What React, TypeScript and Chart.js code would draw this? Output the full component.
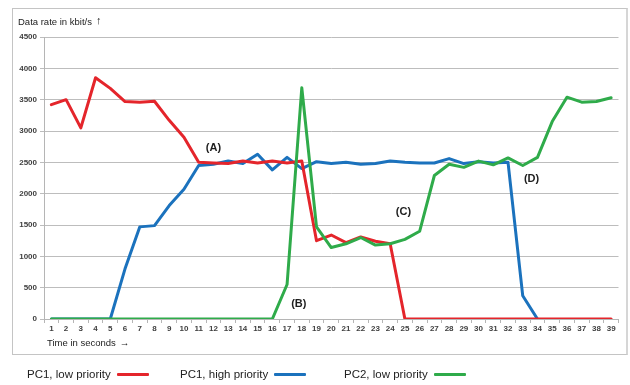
import React, { useEffect, useRef } from "react";
import { Chart, registerables } from "chart.js";

Chart.register(...registerables);

const categories = Array.from({ length: 39 }, (_, i) => String(i + 1));

const seriesNames = ["PC1, low priority", "PC1, high priority", "PC2, low priority"];
const seriesColors = ["#e4252b", "#1b72bd", "#2fab4a"];

const pc1Low = [
  3420, 3500, 3050, 3850, 3680, 3470, 3460, 3475, 3170, 2900,
  2500, 2490, 2480, 2520, 2490, 2520, 2490, 2520, 1250, 1340,
  1220, 1310, 1240, 1200, 0, 0, 0, 0, 0, 0,
  0, 0, 0, 0, 0, 0, 0, 0, 0,
];
const pc1High = [
  0, 0, 0, 0, 0, 800, 1470, 1490, 1810, 2070,
  2450, 2470, 2520, 2480, 2630, 2380, 2580, 2400, 2510, 2480,
  2500, 2470, 2480, 2520, 2500, 2490, 2490, 2560, 2480, 2510,
  2490, 2500, 370, 0, null, null, null, null, null,
];
const pc2Low = [
  0, 0, 0, 0, 0, 0, 0, 0, 0, 0,
  0, 0, 0, 0, 0, 0, 550, 3690, 1470, 1140,
  1200, 1300, 1180, 1200, 1270, 1400, 2290, 2470, 2420, 2520,
  2460, 2570, 2450, 2580, 3150, 3540, 3460, 3470, 3530,
];

const yTicks = [0, 500, 1000, 1500, 2000, 2500, 3000, 3500, 4000, 4500];
const yTitle = "Data rate in kbit/s";
const xTitle = "Time in seconds";

const annLabels = ["(A)", "(B)", "(C)", "(D)"];
const annX = [11, 16.8, 23.9, 32.6];
const annY = [2730, 240, 1700, 2230];

const FONT = '"Liberation Sans", Arial, sans-serif';

const textPlugin = {
  id: "texts",
  afterDatasetsDraw(chart: any) {
    const { ctx, scales } = chart;
    const x = scales.x;
    const y = scales.y;
    ctx.save();
    ctx.fillStyle = "#1e1e1e";
    ctx.font = `bold 11px ${FONT}`;
    ctx.textAlign = "center";
    ctx.textBaseline = "middle";
    annLabels.forEach((t, i) => {
      ctx.fillText(t, x.getPixelForValue(annX[i]), y.getPixelForValue(annY[i]));
    });
    ctx.fillStyle = "#222";
    ctx.font = `9.5px ${FONT}`;
    ctx.textAlign = "left";
    ctx.fillText(yTitle, 18, 22);
    const w1 = ctx.measureText(yTitle).width;
    ctx.font = `11px ${FONT}`;
    ctx.fillText("\u2191", 18 + w1 + 4, 21);
    ctx.font = `9.5px ${FONT}`;
    ctx.fillText(xTitle, 47, 343);
    const w2 = ctx.measureText(xTitle).width;
    ctx.fillText("\u2192", 47 + w2 + 4, 343);
    ctx.restore();
  },
};

export default function App() {
  const ref = useRef<HTMLCanvasElement>(null);
  useEffect(() => {
    if (!ref.current) return;
    const tickFont = { size: 8, weight: "bold" as const, family: FONT };
    const chart = new Chart(ref.current, {
      type: "line",
      data: {
        labels: categories,
        datasets: [
          { label: seriesNames[0], data: pc1Low, borderColor: seriesColors[0], order: 1 },
          { label: seriesNames[1], data: pc1High, borderColor: seriesColors[1], order: 2 },
          { label: seriesNames[2], data: pc2Low, borderColor: seriesColors[2], order: 0 },
        ].map((d) => ({
          ...d,
          borderWidth: 3,
          pointRadius: 0,
          tension: 0,
          fill: false,
          borderJoinStyle: "round" as const,
          borderCapStyle: "round" as const,
          spanGaps: false,
        })),
      },
      options: {
        responsive: false,
        animation: false,
        layout: { padding: { left: 0, right: 11.5, top: 37, bottom: 46 } },
        plugins: { legend: { display: false }, tooltip: { enabled: false } },
        scales: {
          x: {
            offset: true,
            grid: {
              offset: true,
              drawOnChartArea: false,
              drawTicks: true,
              tickLength: 4,
              color: "#b5b5b5",
            },
            border: { color: "#b5b5b5" },
            ticks: {
              autoSkip: false,
              maxRotation: 0,
              minRotation: 0,
              padding: 1,
              color: "#404040",
              font: tickFont,
            },
            afterFit: (s: any) => {
              s.height = 20;
            },
          },
          y: {
            min: 0,
            max: 4500,
            afterBuildTicks: (s: any) => {
              s.ticks = yTicks.map((v) => ({ value: v }));
            },
            grid: { color: "#bdbdbd", tickLength: 4, drawTicks: true },
            border: { color: "#b5b5b5" },
            ticks: {
              color: "#404040",
              font: tickFont,
              padding: 3,
              callback: (v: any) => String(v),
            },
            afterFit: (s: any) => {
              s.width = 44;
            },
          },
        },
      },
      plugins: [textPlugin],
    });
    return () => chart.destroy();
  }, []);

  const legendItem = (i: number, left: number) => (
    <div
      key={i}
      style={{
        position: "absolute",
        left,
        top: 368,
        display: "flex",
        alignItems: "center",
        fontFamily: FONT,
        fontSize: 11.5,
        color: "#222",
        whiteSpace: "nowrap",
      }}
    >
      <span>{seriesNames[i]}</span>
      <span
        style={{
          display: "inline-block",
          width: 32,
          height: 3,
          marginLeft: 6,
          background: seriesColors[i],
          borderRadius: 1,
        }}
      />
    </div>
  );

  return (
    <div style={{ position: "absolute", left: 0, top: 0, width: 630, height: 385, background: "#fff" }}>
      <div
        style={{
          position: "absolute",
          left: 12,
          top: 8,
          width: 613,
          height: 345,
          borderTop: "1px solid #c4c4c4",
          borderLeft: "1px solid #c4c4c4",
          borderBottom: "1px solid #c4c4c4",
          borderRight: "2px solid #d6d6d6",
        }}
      />
      <canvas
        ref={ref}
        width={630}
        height={385}
        style={{ position: "absolute", left: 0, top: 0, display: "block" }}
      />
      {legendItem(0, 27)}
      {legendItem(1, 180)}
      {legendItem(2, 344)}
    </div>
  );
}
